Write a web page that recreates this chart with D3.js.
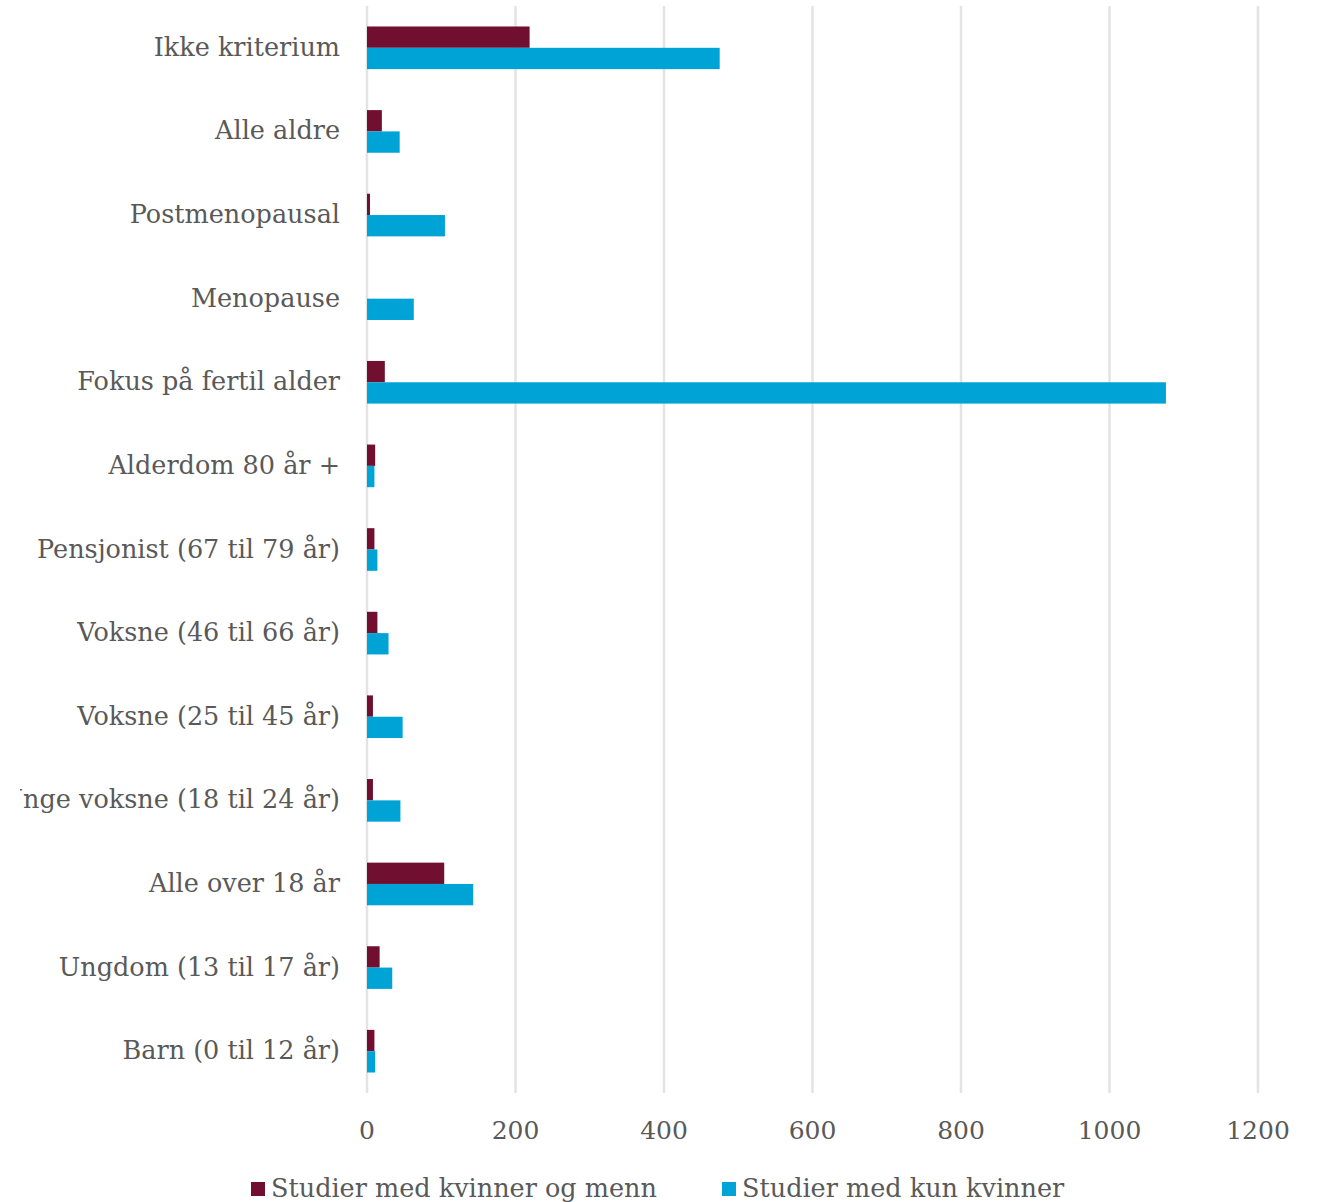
<!DOCTYPE html>
<html>
<head>
<meta charset="utf-8">
<script src="https://cdn.jsdelivr.net/npm/d3@7"></script>
<style>
  body{margin:0;background:#fff;}
  svg{display:block;}
</style>
</head>
<body>
<div id="chart"></div>
<script>
// age-group categories, top to bottom
const categories=["Ikke kriterium","Alle aldre","Postmenopausal","Menopause","Fokus på fertil alder",
  "Alderdom 80 år +","Pensjonist (67 til 79 år)","Voksne (46 til 66 år)","Voksne (25 til 45 år)",
  "Unge voksne (18 til 24 år)","Alle over 18 år","Ungdom (13 til 17 år)","Barn (0 til 12 år)"];
const mixedValues=[219,20,4,0,24,11,10,14,8,8,104,17,10];
const womenValues=[475,44,105,63,1076,10,14,29,48,45,143,34,11];
const seriesNames=["Studier med kvinner og menn","Studier med kun kvinner"];
const seriesColors=["#700f30","#00a3d5"];
const xTicks=[0,200,400,600,800,1000,1200];

const totalW=1317,totalH=1202;
const x0=367,x1=1258,yTop=6,yBot=1093;
const font="'DejaVu Serif', 'Liberation Serif', serif";
const grey="#595959";

const svg=d3.select("#chart").append("svg").attr("width",totalW).attr("height",totalH);

const xScale=d3.scaleLinear().domain([0,1200]).range([x0,x1]);
const yScale=d3.scaleBand().domain(categories).range([yTop,yBot]).paddingInner(0.49).paddingOuter(0.245);
const sub=d3.scaleBand().domain([0,1]).range([0,yScale.bandwidth()]);

// gridlines
svg.append("g").selectAll("line").data(xTicks).join("line")
  .attr("x1",d=>xScale(d)).attr("x2",d=>xScale(d)).attr("y1",yTop).attr("y2",yBot)
  .attr("stroke","#e3e3e3").attr("stroke-width",2.5);

// bars
const rows=categories.map((c,i)=>({cat:c,vals:[mixedValues[i],womenValues[i]]}));
svg.append("g").selectAll("g").data(rows).join("g")
  .attr("transform",d=>`translate(0,${yScale(d.cat)})`)
  .selectAll("rect").data(d=>d.vals.map((v,k)=>({v,k}))).join("rect")
  .attr("x",xScale(0)).attr("y",d=>sub(d.k))
  .attr("width",d=>xScale(d.v)-xScale(0)).attr("height",sub.bandwidth())
  .attr("fill",d=>seriesColors[d.k]);

// category labels (clipped at left like the source image)
svg.append("clipPath").attr("id","lblclip").append("rect")
  .attr("x",20).attr("y",0).attr("width",totalW).attr("height",totalH);
svg.append("g").attr("clip-path","url(#lblclip)").selectAll("text").data(categories).join("text")
  .attr("x",340).attr("y",d=>yScale(d)+yScale.bandwidth()/2+8)
  .attr("text-anchor","end").attr("fill",grey)
  .style("font-family",font).style("font-size","25.5px")
  .text(d=>d);

// x tick labels
svg.append("g").selectAll("text").data(xTicks).join("text")
  .attr("x",d=>xScale(d)).attr("y",1139)
  .attr("text-anchor","middle").attr("fill",grey)
  .style("font-family",font).style("font-size","25px")
  .text(d=>d);

// legend
const legX=[251,722];
seriesNames.forEach((n,i)=>{
  svg.append("rect").attr("x",legX[i]).attr("y",1182).attr("width",14).attr("height",14)
    .attr("fill",seriesColors[i]);
  svg.append("text").attr("x",legX[i]+20).attr("y",1197).attr("fill",grey)
    .style("font-family",font).style("font-size","25.5px").text(n);
});
</script>
</body>
</html>
